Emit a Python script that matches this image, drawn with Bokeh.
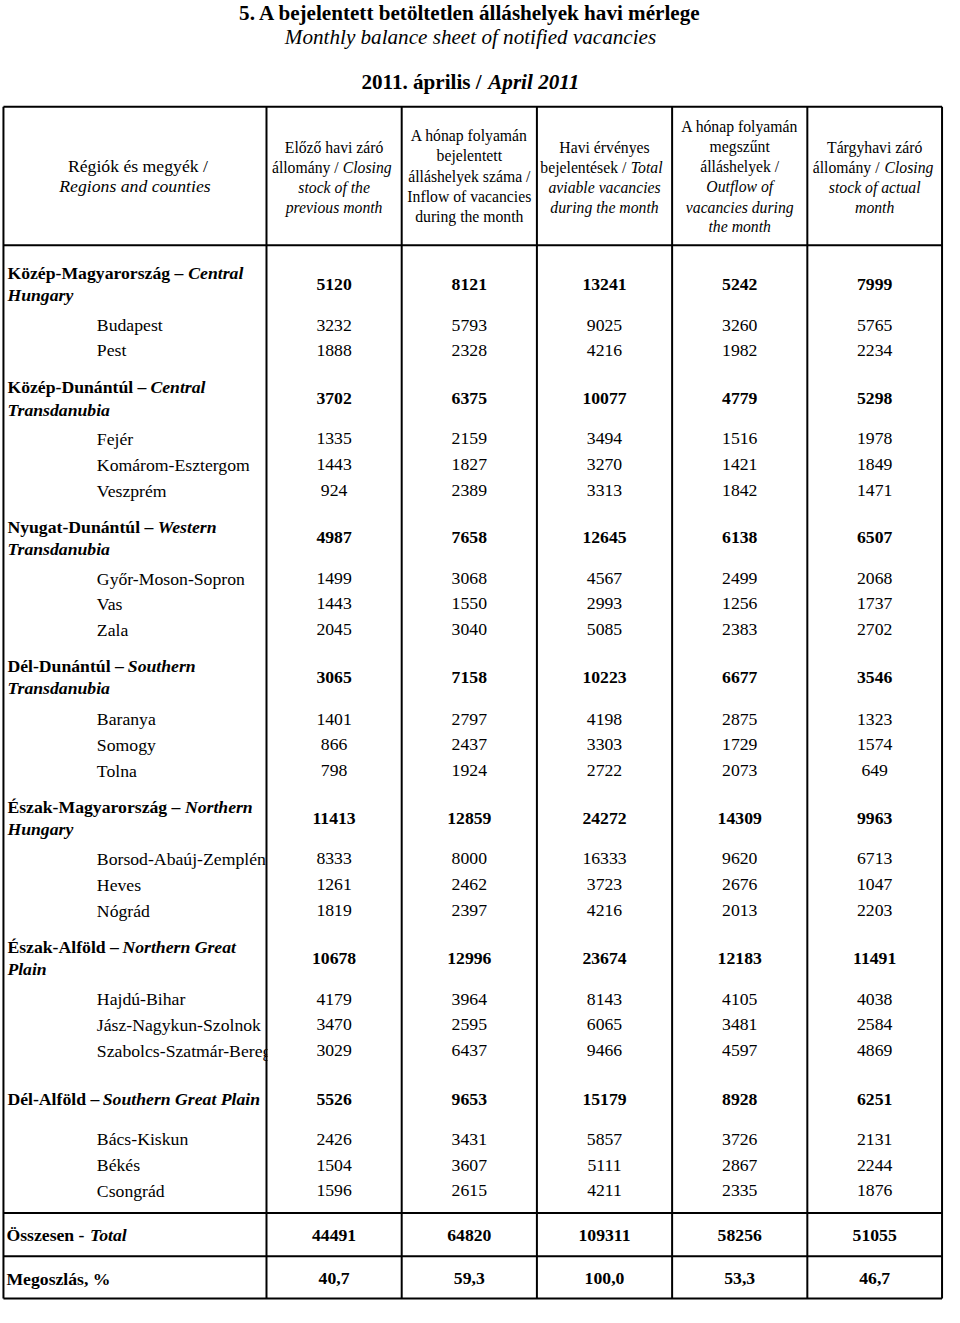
from bokeh.plotting import figure
from bokeh.models import ColumnDataSource, Range1d
from bokeh.core.properties import value
from bokeh.embed import file_html
from bokeh.resources import INLINE

# ---------------------------------------------------------------- data
title_hu = "5. A bejelentett betöltetlen álláshelyek havi mérlege"
title_en = "Monthly balance sheet of notified vacancies"
period_hu = "2011. április /"
period_en = "April 2011"

region_en = ["Central Hungary", "Central Transdanubia", "Western Transdanubia",
             "Southern Transdanubia", "Northern Hungary", "Northern Great Plain",
             "Southern Great Plain"]

row_names = ["Közép-Magyarország", "Budapest", "Pest",
             "Közép-Dunántúl", "Fejér", "Komárom-Esztergom", "Veszprém",
             "Nyugat-Dunántúl", "Győr-Moson-Sopron", "Vas", "Zala",
             "Dél-Dunántúl", "Baranya", "Somogy", "Tolna",
             "Észak-Magyarország", "Borsod-Abaúj-Zemplén", "Heves", "Nógrád",
             "Észak-Alföld", "Hajdú-Bihar", "Jász-Nagykun-Szolnok", "Szabolcs-Szatmár-Bereg",
             "Dél-Alföld", "Bács-Kiskun", "Békés", "Csongrád"]
row_is_region = [True, False, False,
                 True, False, False, False,
                 True, False, False, False,
                 True, False, False, False,
                 True, False, False, False,
                 True, False, False, False,
                 True, False, False, False]

prev_stock = [5120, 3232, 1888, 3702, 1335, 1443, 924, 4987, 1499, 1443, 2045,
              3065, 1401, 866, 798, 11413, 8333, 1261, 1819, 10678, 4179, 3470, 3029,
              5526, 2426, 1504, 1596]
inflow = [8121, 5793, 2328, 6375, 2159, 1827, 2389, 7658, 3068, 1550, 3040,
          7158, 2797, 2437, 1924, 12859, 8000, 2462, 2397, 12996, 3964, 2595, 6437,
          9653, 3431, 3607, 2615]
available = [13241, 9025, 4216, 10077, 3494, 3270, 3313, 12645, 4567, 2993, 5085,
             10223, 4198, 3303, 2722, 24272, 16333, 3723, 4216, 23674, 8143, 6065, 9466,
             15179, 5857, 5111, 4211]
outflow = [5242, 3260, 1982, 4779, 1516, 1421, 1842, 6138, 2499, 1256, 2383,
           6677, 2875, 1729, 2073, 14309, 9620, 2676, 2013, 12183, 4105, 3481, 4597,
           8928, 3726, 2867, 2335]
closing = [7999, 5765, 2234, 5298, 1978, 1849, 1471, 6507, 2068, 1737, 2702,
           3546, 1323, 1574, 649, 9963, 6713, 1047, 2203, 11491, 4038, 2584, 4869,
           6251, 2131, 2244, 1876]

total_label = ("Összesen -", "Total")
total_values = [44491, 64820, 109311, 58256, 51055]
share_label = "Megoszlás, %"
share_pct = [40.7, 59.3, 100.0, 53.3, 46.7]

# header: list of lines per column; each line = list of (text, style) parts
header = [
    [[("Régiók és megyék /", "normal")], [("Regions and counties", "italic")]],
    [[("Előző havi záró", "normal")], [("állomány /", "normal"), ("Closing", "italic")],
     [("stock of the", "italic")], [("previous month", "italic")]],
    [[("A hónap folyamán", "normal")], [("bejelentett", "normal")],
     [("álláshelyek száma /", "normal")], [("Inflow of vacancies", "normal")],
     [("during the month", "normal")]],
    [[("Havi érvényes", "normal")], [("bejelentések /", "normal"), ("Total", "italic")],
     [("aviable vacancies", "italic")], [("during the month", "italic")]],
    [[("A hónap folyamán", "normal")], [("megszűnt", "normal")], [("álláshelyek /", "normal")],
     [("Outflow of", "italic")], [("vacancies during", "italic")], [("the month", "italic")]],
    [[("Tárgyhavi záró", "normal")], [("állomány /", "normal"), ("Closing", "italic")],
     [("stock of actual", "italic")], [("month", "italic")]],
]

# ---------------------------------------------------------------- layout
S = 944 / 960.0
FONT = "Liberation Serif"
col_edges = [3, 270.5, 408, 545.5, 683, 820.5, 957.5]
col_centers = [(col_edges[i] + col_edges[i + 1]) / 2 for i in range(len(col_edges) - 1)]
h_lines = [108, 249, 1233, 1277, 1320]
row_y = [288.3, 330, 355.7,
         405, 445.5, 472, 498.3,
         546.5, 588, 613.5, 640,
         688, 731, 757, 783.5,
         832, 872.7, 899.3, 925.7,
         974, 1015.5, 1041.7, 1068,
         1117.5, 1158, 1184.5, 1210.5]
region_italic_x = [191, 152.5, 160, 129.5, 187.5, 124, 104]
region_wrap_words = [1, 1, 1, 1, 1, 2, 3]
header_line_y = {2: [168, 189], 4: [149, 169.5, 190, 210], 5: [137.5, 158, 179, 199.5, 219.5],
                 6: [128.5, 148.5, 169, 189.5, 210, 230]}
mixed_x = {1: (276, 348), 3: (549, 641), 5: (826, 899)}
total_y, share_y = 1255.5, 1300

p = figure(width=944, height=1301, x_range=Range1d(0, 960), y_range=Range1d(1323, 0),
           output_backend="svg", toolbar_location=None, x_axis_type=None, y_axis_type=None,
           min_border=0, outline_line_color=None, background_fill_color="white",
           border_fill_color="white")
p.xgrid.visible = False
p.ygrid.visible = False


def add_text(xs, ys, texts, size, style="normal", align="center"):
    src = ColumnDataSource(dict(x=xs, y=ys, t=texts))
    p.text(x="x", y="y", text="t", source=src, text_font=value(FONT),
           text_font_size=value(f"{size * S:.2f}px"), text_font_style=style,
           text_align=align, text_baseline="middle", text_color="black")


# titles
add_text([478], [13], [title_hu], 21.5, "bold")
add_text([478], [37], [title_en], 21.5, "italic")
add_text([367], [83], [period_hu], 21.5, "bold", "left")
add_text([496], [83], [period_en], 21.5, "bold italic", "left")

# header
for ci, lines in enumerate(header):
    ys = header_line_y[len(lines)]
    size = 18 if ci == 0 else 16
    for li, parts in enumerate(lines):
        if len(parts) == 1:
            txt, st = parts[0]
            x = col_centers[ci] + (3 if (ci == 0 and li == 0) else 0)
            add_text([x], [ys[li]], [txt], size, st)
        else:
            x0, x1 = mixed_x[ci]
            add_text([x0], [ys[li]], [parts[0][0]], size, parts[0][1], "left")
            add_text([x1], [ys[li]], [parts[1][0]], size, parts[1][1], "left")

# body labels
ri = 0
for i, name in enumerate(row_names):
    y = row_y[i]
    if row_is_region[i]:
        words = region_en[ri].split(" ")
        k = region_wrap_words[ri]
        first, second = " ".join(words[:k]), " ".join(words[k:])
        if second:
            y1, y2 = y - 11.5, y + 11
        else:
            y1, y2 = y, None
        add_text([7], [y1], [name + " –"], 18, "bold", "left")
        add_text([region_italic_x[ri]], [y1], [first], 18, "bold italic", "left")
        if second:
            add_text([7], [y2], [second], 18, "bold italic", "left")
        ri += 1
    else:
        add_text([98], [y], [name], 18, "normal", "left")

# numbers
cols = [prev_stock, inflow, available, outflow, closing]
bx, by, bt, nx, ny, nt = [], [], [], [], [], []
for ci, col in enumerate(cols):
    for i, v in enumerate(col):
        if row_is_region[i]:
            bx.append(col_centers[ci + 1]); by.append(row_y[i]); bt.append(str(v))
        else:
            nx.append(col_centers[ci + 1]); ny.append(row_y[i]); nt.append(str(v))
for ci, v in enumerate(total_values):
    bx.append(col_centers[ci + 1]); by.append(total_y); bt.append(str(v))
for ci, v in enumerate(share_pct):
    bx.append(col_centers[ci + 1]); by.append(share_y); bt.append(f"{v:.1f}".replace(".", ","))
add_text(bx, by, bt, 18, "bold")
add_text(nx, ny, nt, 18, "normal")

# total / share labels
add_text([6], [total_y], [total_label[0]], 18, "bold", "left")
add_text([91], [total_y], [total_label[1]], 18, "bold italic", "left")
add_text([6], [share_y], [share_label], 18, "bold", "left")

# mask the overflow of the long county label (cell clipping)
clip_rows = [i for i, n in enumerate(row_names) if n.startswith("Szabolcs")]
p.quad(left=[col_edges[1] + 1] * len(clip_rows), right=[col_edges[1] + 20] * len(clip_rows),
       top=[row_y[i] - 12 for i in clip_rows], bottom=[row_y[i] + 12 for i in clip_rows],
       fill_color="white", line_color=None)

# grid lines
p.segment(x0=col_edges, x1=col_edges, y0=[h_lines[0]] * len(col_edges),
          y1=[h_lines[-1]] * len(col_edges), line_color="black", line_width=2)
p.segment(x0=[col_edges[0]] * len(h_lines), x1=[col_edges[-1]] * len(h_lines),
          y0=h_lines, y1=h_lines, line_color="black", line_width=2)

open("out.html", "w").write(file_html(p, INLINE))
